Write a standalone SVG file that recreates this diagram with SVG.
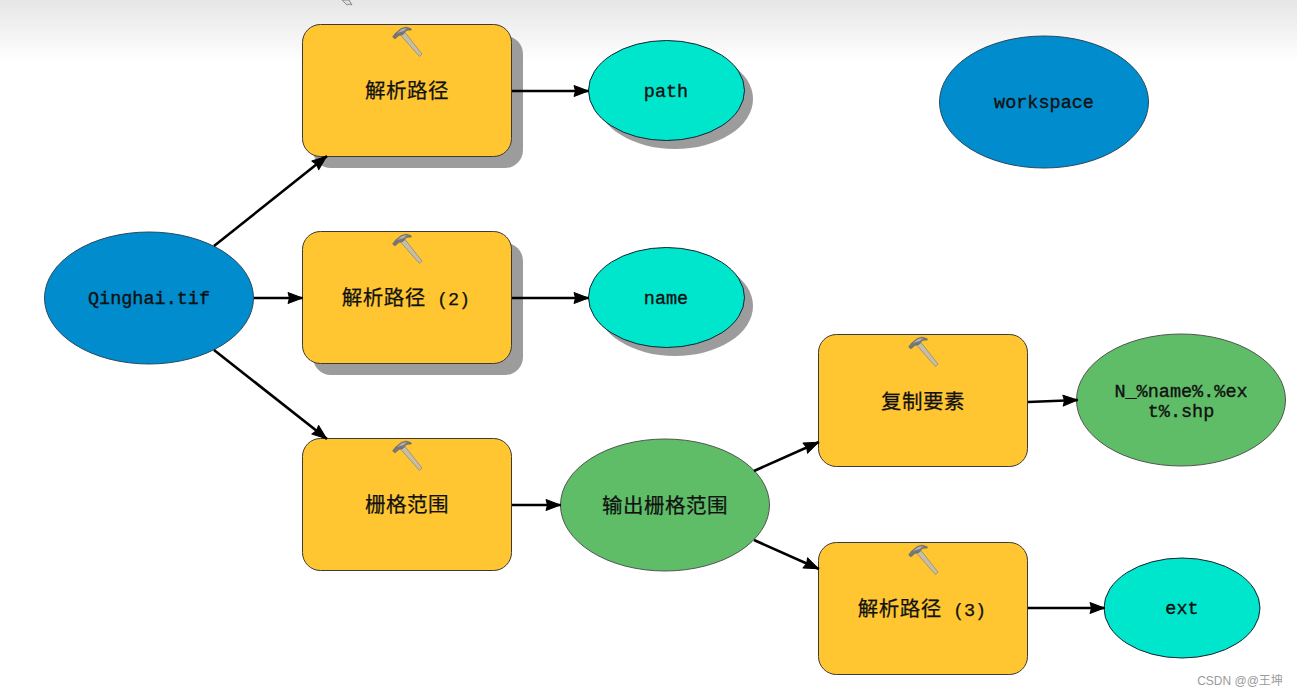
<svg xmlns="http://www.w3.org/2000/svg" xmlns:xlink="http://www.w3.org/1999/xlink" width="1297" height="696" viewBox="0 0 1297 696">
<style>
.t{font-family:"Liberation Mono","Noto Sans CJK SC",monospace;font-size:18.5px;fill:#111;stroke:#111;stroke-width:.35;text-anchor:middle}
.c{font-family:"Noto Sans CJK SC","Liberation Mono",sans-serif;font-size:20.5px;fill:#111;stroke:#111;stroke-width:.25;text-anchor:middle;letter-spacing:.5px}
.m{font-family:"Liberation Mono",monospace;font-size:18.5px;letter-spacing:0}
.box{fill:#ffc632;stroke:#3a3a3a;stroke-width:1}
.shadow{fill:#9c9c9c}
.blue{fill:#008ccd;stroke:#2a4a60;stroke-width:1}
.teal{fill:#00e6cd;stroke:#123;stroke-width:1}
.green{fill:#5fbd68;stroke:#555;stroke-width:1}
.wire{fill:none;stroke:#000;stroke-width:2.6}
</style>
<defs>
<linearGradient id="fade" x1="0" y1="0" x2="0" y2="1"><stop offset="0" stop-color="#e6e6e6"/><stop offset="1" stop-color="#fff"/></linearGradient>
<marker id="arrow" markerUnits="userSpaceOnUse" markerWidth="20" markerHeight="18" refX="17" refY="8" orient="auto"><path d="M2 2.500L16.500 8L2 13.500L3.500 8Z" fill="#000" stroke="#000" stroke-width="1" stroke-linejoin="round"/></marker>
<g id="hammer">
<path d="M8.500 9L13 6.500L30 28L27.500 30.500Z" fill="#c8bea6" stroke="#8a8a80" stroke-width=".8"/>
<path d="M0.500 11L3 7.500L9 2.500L14 1L19 2.500L19.500 4L14.500 4.500L11 8.500L7 9.500L3 13Z" fill="#77777a" stroke="#555" stroke-width=".4"/>
<path d="M5 7L10 3L15 2L12 5Z" fill="#b0b0b0"/>
</g>
</defs>
<rect width="1297" height="62" fill="url(#fade)"/>
<path id="cursor" d="M342 0L347 5L350 4L352 5L349 0Z" fill="#ddd" stroke="#777" stroke-width=".8"/>
<g id="parse1"><rect class="shadow" x="313" y="36" width="210" height="132" rx="18"/><rect class="box" x="302.500" y="24.500" width="209" height="132" rx="18"/><use xlink:href="#hammer" href="#hammer" x="392" y="26"/><text class="c" x="407" y="98">解析路径</text></g>
<g id="parse2"><rect class="shadow" x="313" y="243" width="210" height="132" rx="18"/><rect class="box" x="302.500" y="231.500" width="209" height="132" rx="18"/><use xlink:href="#hammer" href="#hammer" x="392" y="233"/><text class="c" x="406" y="305">解析路径<tspan class="m"> (2)</tspan></text></g>
<g id="extent"><rect class="box" x="302.500" y="438.500" width="209" height="132" rx="18"/><use xlink:href="#hammer" href="#hammer" x="392" y="440"/><text class="c" x="407" y="512">栅格范围</text></g>
<g id="copy"><rect class="box" x="818.500" y="334.500" width="209" height="132" rx="18"/><use xlink:href="#hammer" href="#hammer" x="908" y="336"/><text class="c" x="923" y="409">复制要素</text></g>
<g id="parse3"><rect class="box" x="818.500" y="542.500" width="209" height="132" rx="18"/><use xlink:href="#hammer" href="#hammer" x="908" y="544"/><text class="c" x="922" y="616">解析路径<tspan class="m"> (3)</tspan></text></g>
<g id="path"><ellipse class="shadow" cx="675" cy="99" rx="78" ry="50"/><ellipse class="teal" cx="666.500" cy="90.500" rx="78" ry="50"/><text class="t" x="666" y="97">path</text></g>
<g id="name"><ellipse class="shadow" cx="675" cy="306" rx="78" ry="50"/><ellipse class="teal" cx="666.500" cy="297.500" rx="78" ry="50"/><text class="t" x="666" y="304">name</text></g>
<g id="workspace"><ellipse class="blue" cx="1044" cy="102" rx="104.500" ry="66"/><text class="t" x="1044" y="108">workspace</text></g>
<g id="qinghai"><ellipse class="blue" cx="149" cy="298" rx="104.500" ry="66"/><text class="t" x="149" y="304">Qinghai.tif</text></g>
<g id="rasterOut"><ellipse class="green" cx="665" cy="505" rx="104.500" ry="66"/><text class="c" x="665" y="513">输出栅格范围</text></g>
<g id="shp"><ellipse class="green" cx="1181" cy="400" rx="104.500" ry="66"/><text class="t" x="1181" y="397">N_%name%.%ex</text><text class="t" x="1181" y="417">t%.shp</text></g>
<g id="ext"><ellipse class="teal" cx="1182" cy="608" rx="78" ry="50"/><text class="t" x="1182" y="614">ext</text></g>
<g id="connectors">
<path class="wire" d="M214 246L327 156" marker-end="url(#arrow)"/>
<path class="wire" d="M254 298L303 298" marker-end="url(#arrow)"/>
<path class="wire" d="M214 350L327 439" marker-end="url(#arrow)"/>
<path class="wire" d="M512 91L589 91" marker-end="url(#arrow)"/>
<path class="wire" d="M512 298L589 298" marker-end="url(#arrow)"/>
<path class="wire" d="M512 505L561 505" marker-end="url(#arrow)"/>
<path class="wire" d="M754 471L819 442" marker-end="url(#arrow)"/>
<path class="wire" d="M754 540L819 569" marker-end="url(#arrow)"/>
<path class="wire" d="M1028 402L1078 400" marker-end="url(#arrow)"/>
<path class="wire" d="M1028 608L1105 608" marker-end="url(#arrow)"/>
</g>
<text id="mark" x="1240" y="685" font-family="Liberation Sans,Noto Sans CJK SC,sans-serif" font-size="12" fill="#9a9a9a" text-anchor="middle">CSDN @@王坤</text>
</svg>
